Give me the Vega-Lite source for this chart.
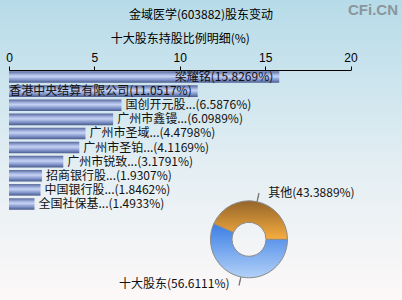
{
  "$schema": "https://vega.github.io/schema/vega-lite/v6.json",
  "width": 402,
  "height": 300,
  "autosize": {"type": "none"},
  "padding": 0,
  "background": "#e4eff4",
  "config": {
    "view": {"stroke": null, "fill": {"gradient": "linear", "x1": 0, "y1": 0, "x2": 0, "y2": 1, "stops": [{"offset": 0, "color": "#b6dbe8"}, {"offset": 0.55, "color": "#e3eef3"}, {"offset": 1, "color": "#fdf8f8"}]}},
    "font": "Noto Sans CJK SC",
    "axis": {"labelFont": "Liberation Sans", "titleFont": "Noto Sans CJK SC"}
  },
  "title": {"text": "金域医学(603882)股东变动", "fontSize": 12, "fontWeight": "normal", "color": "#000000", "offset": -22, "anchor": "middle", "font": "Noto Sans CJK SC"},
  "datasets": {
    "holders": [
      {"name": "梁耀铭", "value": 15.8269},
      {"name": "香港中央结算有限公司", "value": 11.0517},
      {"name": "国创开元股...", "value": 6.5876},
      {"name": "广州市鑫镘...", "value": 6.0989},
      {"name": "广州市圣域...", "value": 4.4798},
      {"name": "广州市圣铂...", "value": 4.1169},
      {"name": "广州市锐致...", "value": 3.1791},
      {"name": "招商银行股...", "value": 1.9307},
      {"name": "中国银行股...", "value": 1.8462},
      {"name": "全国社保基...", "value": 1.4933}
    ],
    "structure": [
      {"holder": "十大股东", "share": 56.6111},
      {"holder": "其他", "share": 43.3889}
    ],
    "mark": [{"t": "CFi.CN"}]
  },
  "layer": [
    {
      "data": {"name": "holders"},
      "transform": [{"calculate": "datum.name + '(' + format(datum.value, '.4f') + '%)'", "as": "label"}],
      "layer": [
        {
          "mark": {"type": "bar", "color": {"gradient": "linear", "x1": 0, "y1": 0, "x2": 0, "y2": 1, "stops": [{"offset": 0, "color": "#56679a"}, {"offset": 0.3, "color": "#a9b8e4"}, {"offset": 0.45, "color": "#c6d2f3"}, {"offset": 0.75, "color": "#7f93c9"}, {"offset": 1, "color": "#4a5a8b"}]}},
          "encoding": {
            "y": {"field": "name", "type": "nominal", "sort": null, "scale": {"range": [70, 211], "paddingInner": 0.18, "paddingOuter": 0.09}, "axis": null},
            "x": {"field": "value", "type": "quantitative", "scale": {"domain": [0, 20], "range": [9, 350.5], "nice": false, "zero": true},
              "axis": {"orient": "top", "offset": -70, "values": [0, 5, 10, 15, 20], "title": "十大股东持股比例明细(%)", "grid": false, "domainColor": "#000000", "tickColor": "#000000", "tickSize": 4, "labelFontSize": 12, "labelColor": "#000000", "labelPadding": 2, "labelFlush": false, "titleFontSize": 12, "titleFontWeight": "normal", "titleColor": "#000000", "titlePadding": 6}}
          }
        },
        {
          "transform": [{"filter": "datum.value > 10"}],
          "mark": {"type": "text", "align": "right", "baseline": "middle", "dx": -6, "fontSize": 12, "color": "#111111"},
          "encoding": {
            "y": {"field": "name", "type": "nominal", "sort": null},
            "x": {"field": "value", "type": "quantitative"},
            "text": {"field": "label"}
          }
        },
        {
          "transform": [{"filter": "datum.value <= 10"}],
          "mark": {"type": "text", "align": "left", "baseline": "middle", "dx": 4, "fontSize": 12, "color": "#111111"},
          "encoding": {
            "y": {"field": "name", "type": "nominal", "sort": null},
            "x": {"field": "value", "type": "quantitative"},
            "text": {"field": "label"}
          }
        }
      ]
    },
    {
      "data": {"name": "structure"},
      "transform": [
        {"window": [{"op": "sum", "field": "share", "as": "end"}], "sort": [{"field": "share", "order": "descending"}], "frame": [null, 0]},
        {"calculate": "datum.end - datum.share", "as": "start"},
        {"calculate": "datum.end - datum.share / 2", "as": "mid"},
        {"calculate": "datum.end - datum.share / 2 + 0.15", "as": "mid2"},
        {"calculate": "datum.holder + '(' + format(datum.share, '.4f') + '%)'", "as": "plabel"}
      ],
      "layer": [
        {
          "transform": [{"filter": "datum.holder === '十大股东'"}],
          "mark": {"type": "arc", "innerRadius": 17, "outerRadius": 38.5, "stroke": "#8a8a8a", "strokeWidth": 1, "fill": {"gradient": "linear", "x1": 0, "y1": 0, "x2": 0, "y2": 1, "stops": [{"offset": 0, "color": "#3a7ee6"}, {"offset": 1, "color": "#b3d1f7"}]}},
          "encoding": {
            "x": {"value": 249}, "y": {"value": 239.3},
            "theta": {"field": "start", "type": "quantitative", "stack": null, "scale": {"domain": [0, 100], "range": [1.5708, 7.854]}},
            "theta2": {"field": "end"}
          }
        },
        {
          "transform": [{"filter": "datum.holder === '其他'"}],
          "mark": {"type": "arc", "innerRadius": 17, "outerRadius": 38.5, "stroke": "#8a8a8a", "strokeWidth": 1, "fill": {"gradient": "linear", "x1": 0, "y1": 0, "x2": 0, "y2": 1, "stops": [{"offset": 0, "color": "#94652a"}, {"offset": 1, "color": "#f7ad3f"}]}},
          "encoding": {
            "x": {"value": 249}, "y": {"value": 239.3},
            "theta": {"field": "start", "type": "quantitative", "stack": null},
            "theta2": {"field": "end"}
          }
        },
        {
          "mark": {"type": "arc", "radius": 47, "radius2": 39, "stroke": "#707070", "strokeWidth": 0.8, "fill": "#707070"},
          "encoding": {
            "x": {"value": 249}, "y": {"value": 239.3},
            "theta": {"field": "mid", "type": "quantitative", "stack": null},
            "theta2": {"field": "mid2"}
          }
        },
        {
          "transform": [{"filter": "datum.holder === '其他'"}],
          "mark": {"type": "text", "align": "left", "baseline": "middle", "dx": 9.5, "fontSize": 12, "color": "#111111", "radius": 47},
          "encoding": {
            "x": {"value": 249}, "y": {"value": 239.3},
            "theta": {"field": "mid", "type": "quantitative", "stack": null},
            "text": {"field": "plabel"}
          }
        },
        {
          "transform": [{"filter": "datum.holder === '十大股东'"}],
          "mark": {"type": "text", "align": "right", "baseline": "middle", "dx": -10, "fontSize": 12, "color": "#111111", "radius": 46},
          "encoding": {
            "x": {"value": 249}, "y": {"value": 239.3},
            "theta": {"field": "mid", "type": "quantitative", "stack": null},
            "text": {"field": "plabel"}
          }
        }
      ]
    },
    {
      "data": {"name": "mark"},
      "mark": {"type": "text", "align": "right", "baseline": "middle", "fontSize": 15, "fontWeight": "bold", "font": "Liberation Sans", "color": "#8a969a"},
      "encoding": {"x": {"value": 398}, "y": {"value": 10}, "text": {"field": "t"}}
    }
  ]
}
